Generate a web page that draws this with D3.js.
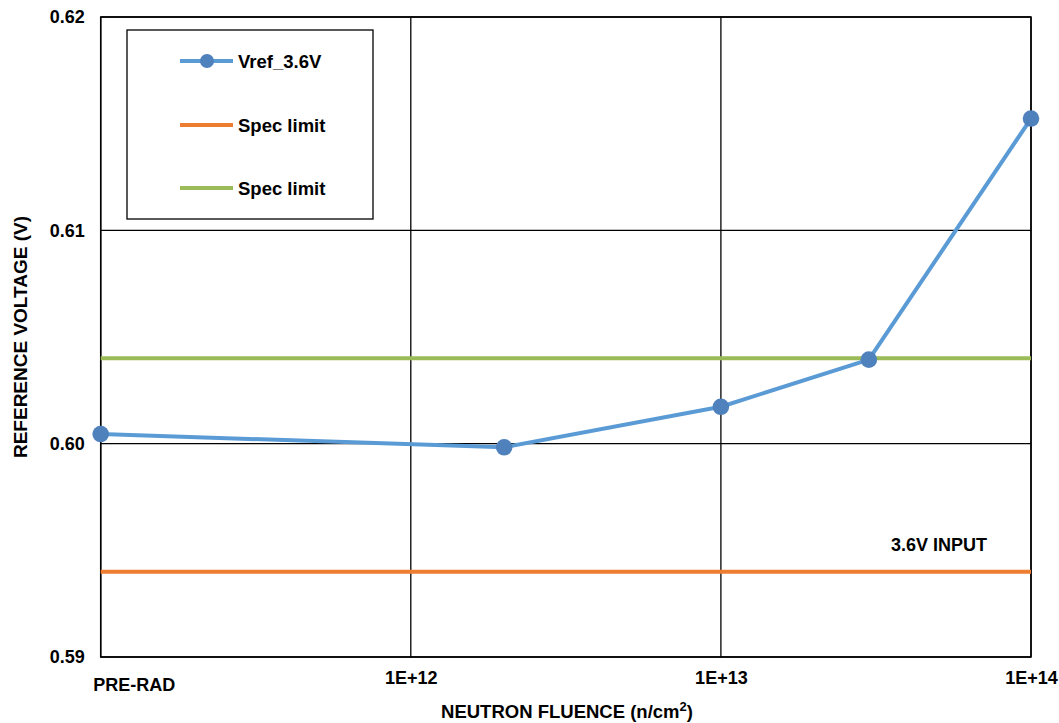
<!DOCTYPE html>
<html><head><meta charset="utf-8">
<script src="https://cdn.jsdelivr.net/npm/d3@7"></script>
<style>
html,body{margin:0;padding:0;background:#fff;}
text{font-family:"Liberation Sans",Arial,sans-serif;font-weight:bold;fill:#000;}
</style>
</head><body>
<svg id="chart" width="1059" height="723"></svg>
<script>
// ---- data ----
const fluence = [1e11, 2e12, 1e13, 3e13, 1e14];       // 1e11 stands for PRE-RAD
const vref36 = [0.60045, 0.59983, 0.60173, 0.60394, 0.61524];
const specLow = 0.5940;
const specHigh = 0.6040;
const xTickValues = [1e11, 1e12, 1e13, 1e14];
const xTickLabels = ["PRE-RAD", "1E+12", "1E+13", "1E+14"];
const yTickValues = [0.59, 0.60, 0.61, 0.62];
const seriesNames = ["Vref_3.6V", "Spec limit", "Spec limit"];
const colors = {line: "#5B9BD5", marker: "#4F81BD", low: "#ED7D31", high: "#9BBB59"};

const svg = d3.select("#chart");
const L = 100.7, R = 1031, T = 17, B = 657;
const x = d3.scaleLog().domain([1e11, 1e14]).range([L, R]);
const y = d3.scaleLinear().domain([0.59, 0.62]).range([B, T]);

// gridlines
svg.append("g").selectAll("line.h").data(yTickValues).join("line")
  .attr("x1", L).attr("x2", R).attr("y1", d => y(d)).attr("y2", d => y(d))
  .attr("stroke", "#000").attr("stroke-width", 1.3);
svg.append("g").selectAll("line.v").data(xTickValues).join("line")
  .attr("y1", T).attr("y2", B).attr("x1", d => x(d)).attr("x2", d => x(d))
  .attr("stroke", "#000").attr("stroke-width", 1.3);
// plot frame
svg.append("rect").attr("x", L).attr("y", T).attr("width", R - L).attr("height", B - T)
  .attr("fill", "none").attr("stroke", "#000").attr("stroke-width", 1.5);

// y axis
const yAxis = d3.axisLeft(y).tickValues(yTickValues).tickFormat(d3.format(".2f")).tickSize(0).tickPadding(16);
const gy = svg.append("g").attr("transform", `translate(${L},0)`).call(yAxis);
gy.select(".domain").remove();
gy.selectAll("text").style("font-size", "18px").attr("font-family", null);

// x axis
const xAxis = d3.axisBottom(x).tickValues(xTickValues)
  .tickFormat((d, i) => xTickLabels[i]).tickSize(0).tickPadding(14);
const gx = svg.append("g").attr("transform", `translate(0,${B})`).call(xAxis).attr("font-family", null);
gx.select(".domain").remove();
gx.selectAll("text").style("font-size", "18px");
gx.selectAll(".tick").filter(d => d === 1e11).select("text")
  .attr("x", 33).attr("dy", "1.1em");

// spec limit lines
svg.append("line").attr("x1", L).attr("x2", R).attr("y1", y(specLow)).attr("y2", y(specLow))
  .attr("stroke", colors.low).attr("stroke-width", 4);
svg.append("line").attr("x1", L).attr("x2", R).attr("y1", y(specHigh)).attr("y2", y(specHigh))
  .attr("stroke", colors.high).attr("stroke-width", 4);

// data series
const pts = fluence.map((f, i) => [f, vref36[i]]);
svg.append("path").datum(pts)
  .attr("d", d3.line().x(d => x(d[0])).y(d => y(d[1])))
  .attr("fill", "none").attr("stroke", colors.line).attr("stroke-width", 4).attr("stroke-linejoin", "round");
svg.append("g").selectAll("circle").data(pts).join("circle")
  .attr("cx", d => x(d[0])).attr("cy", d => y(d[1])).attr("r", 8.3).attr("fill", colors.marker);

// annotation
svg.append("text").attr("x", 939).attr("y", 551).attr("text-anchor", "middle")
  .style("font-size", "18px").text("3.6V INPUT");

// axis titles
svg.append("text").attr("transform", "translate(27,337) rotate(-90)").attr("text-anchor", "middle")
  .style("font-size", "19px").text("REFERENCE VOLTAGE (V)");
const xt = svg.append("text").attr("x", 567).attr("y", 718).attr("text-anchor", "middle").style("font-size", "18.5px");
xt.append("tspan").text("NEUTRON FLUENCE (n/cm");
xt.append("tspan").attr("dy", -7).style("font-size", "13px").text("2");
xt.append("tspan").attr("dy", 7).text(")");

// legend
const lg = svg.append("g");
lg.append("rect").attr("x", 127).attr("y", 30).attr("width", 246).attr("height", 189)
  .attr("fill", "#fff").attr("stroke", "#000").attr("stroke-width", 1.3);
const lgColors = [colors.line, colors.low, colors.high];
const lgY = [61, 125, 188];
seriesNames.forEach((n, i) => {
  lg.append("line").attr("x1", 180).attr("x2", 233).attr("y1", lgY[i]).attr("y2", lgY[i])
    .attr("stroke", lgColors[i]).attr("stroke-width", 4);
  if (i === 0) lg.append("circle").attr("cx", 207).attr("cy", lgY[i]).attr("r", 7).attr("fill", colors.marker);
  lg.append("text").attr("x", 238).attr("y", lgY[i] + 6.5).style("font-size", "18.5px").text(n);
});
</script>
</body></html>
